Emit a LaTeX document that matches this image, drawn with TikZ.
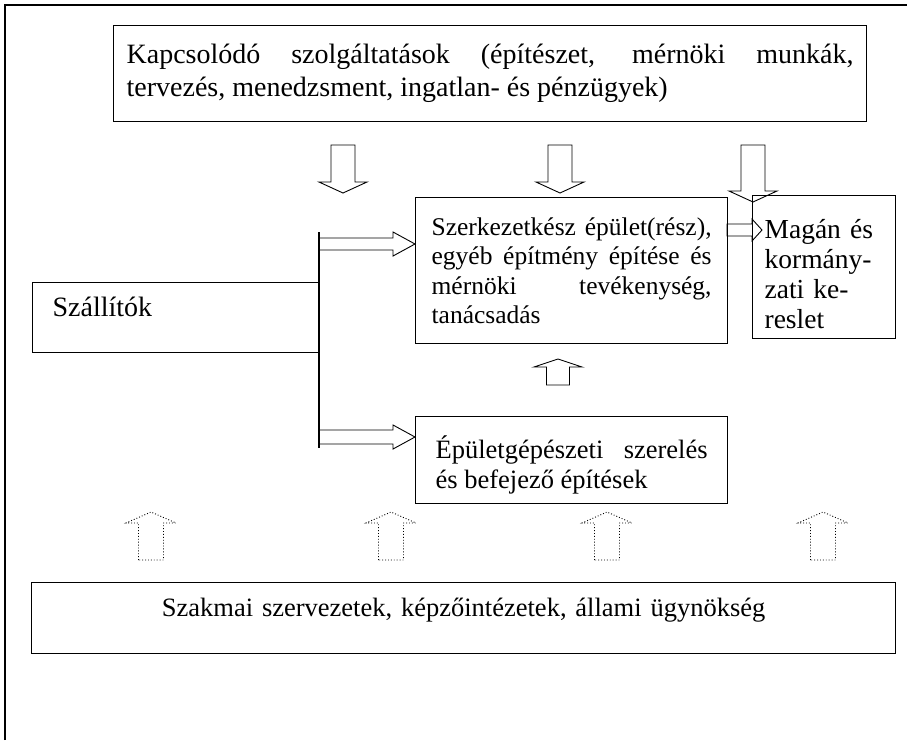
\documentclass[tikz,border=0pt]{standalone}
\usepackage{fontspec}
\setmainfont{Liberation Serif}
\usetikzlibrary{positioning}

% ures tomb-nyil: kezdopont, szog, hossz, fejhossz, fel szar, fel fej
\newcommand{\blockarrow}[7][]{%
    \draw[hollow, #1, shift={#2}, rotate=#3]
        (0,-#6) -- ({#4-#5},-#6) -- ({#4-#5},-#7) -- (#4,0)
        -- ({#4-#5},#7) -- ({#4-#5},#6) -- (0,#6) -- cycle;}

\begin{document}
\begin{tikzpicture}[
    x=1pt, y=-1pt,
    font=\fontsize{26.5}{30}\selectfont,
    box/.style={draw, line width=1.2pt, anchor=north west, inner ysep=0pt, align=justify},
    hollow/.style={line width=0.9pt, line join=miter},
    frame/.style={line width=1.4pt},
]
\useasboundingbox (0,0) rectangle (907,740);

% --- keret ---
\draw[frame] (5,740) -- (5,5) -- (907,5);

% --- kapcsolodo szolgaltatasok ---
\node[box, font=\fontsize{28}{33}\selectfont,
      minimum width=753pt, minimum height=96pt, text width=727pt, inner xsep=13pt]
    (serv) at (113,25)
    {Kapcsolódó szolgáltatások (építészet, mérnöki munkák,\break tervezés, menedzsment, ingatlan- és pénzügyek)};

% --- epitoipari tevekenysegek ---
\node[box, font=\fontsize{25.5}{29.5}\selectfont,
      minimum width=312pt, minimum height=146pt, text width=280pt, inner xsep=16pt]
    (main) at (415,197)
    {Szerkezetkész épület(rész),\break egyéb építmény építése és\break mérnöki tevékenység,\break tanácsadás};
\node[box, minimum width=312pt, minimum height=87pt, text width=272pt, inner xsep=20pt,
      text height=32pt]
    (mep) at (415,416)
    {Épületgépészeti szerelés\break és befejező építések};

% --- kereslet ---
\node[box, align=left, font=\fontsize{27.5}{30}\selectfont,
      minimum width=143pt, minimum height=143pt, text width=119pt, inner xsep=12pt,
      text height=34pt]
    (demand) at (752,195)
    {Magán és\\kormány-\\zati ke-\\reslet};

% --- szallitok ---
\node[box, align=left, font=\fontsize{28}{30}\selectfont,
      minimum width=287pt, minimum height=70pt, text width=247pt, inner xsep=20pt,
      text depth=21pt]
    (supp) at (32,282) {Szállítók};

% --- szakmai szervezetek ---
\node[box, align=center, minimum width=864pt, minimum height=71pt, text width=840pt, inner xsep=12pt,
      text depth=22pt]
    (org) at (31,582) {Szakmai szervezetek, képzőintézetek, állami ügynökség};

% --- szallitoi ag ---
\coordinate (trunktop) at (319,232);
\coordinate (trunkbot) at (319,448);
\coordinate (feed1) at (319,244);
\coordinate (feed2) at (319,437);
\draw[line width=1.2pt] (trunktop) -- (trunkbot);
\blockarrow{(feed1)}{0}{96}{22}{6}{12}
\blockarrow{(feed2)}{0}{96}{22}{7}{12}

% --- nyilak ---
\foreach \x/\l in {343/48, 560/48, 753/57}{
    \blockarrow{(\x,145)}{-90}{\l}{11}{12}{24}
}
\coordinate (out) at (727,230);
\blockarrow{(out)}{0}{35}{10}{6}{11}
\blockarrow{(558,385)}{90}{26}{8}{11.5}{24}
\foreach \x in {151,391,607,823}{
    \blockarrow[dotted]{(\x,560)}{90}{48}{11}{12.5}{25}
}

\end{tikzpicture}
\end{document}
